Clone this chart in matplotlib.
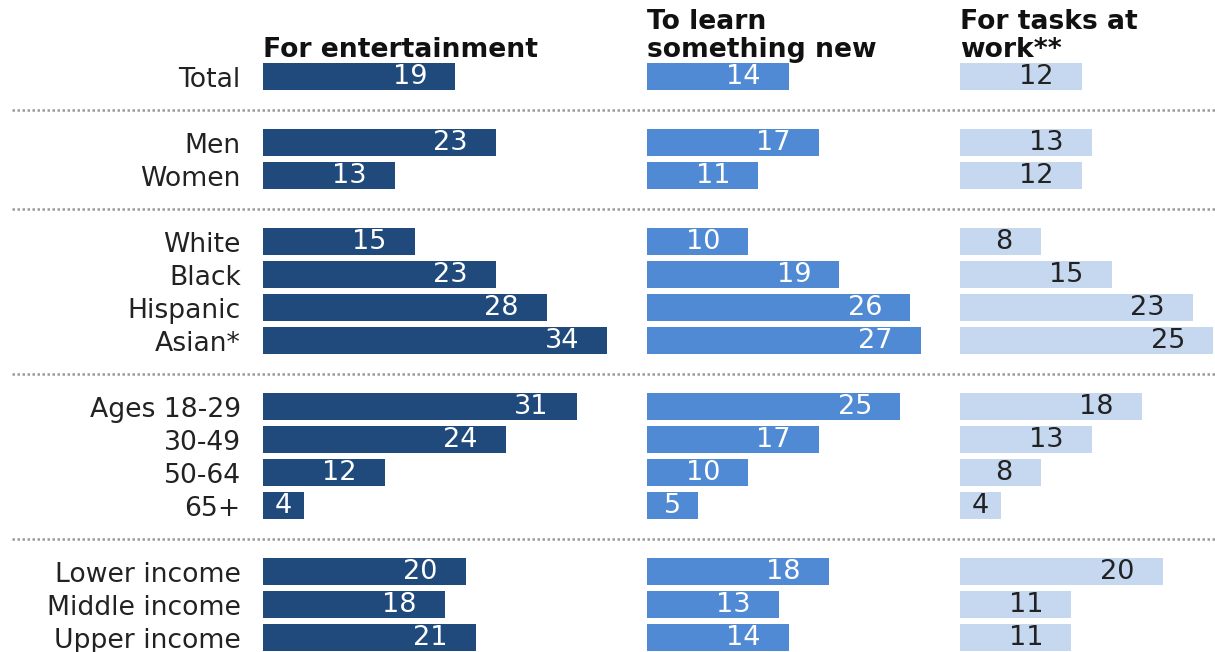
import matplotlib
matplotlib.use("Agg")
import matplotlib.pyplot as plt

# ---- data ----
row_labels = ["Total", "Men", "Women", "White", "Black", "Hispanic", "Asian*",
              "Ages 18-29", "30-49", "50-64", "65+",
              "Lower income", "Middle income", "Upper income"]
row_pos = [0, 2, 3, 5, 6, 7, 8, 10, 11, 12, 13, 15, 16, 17]
separators = [1, 4, 9, 14]

titles = ["For entertainment", "To learn\nsomething new", "For tasks at\nwork**"]
entertainment = [19, 23, 13, 15, 23, 28, 34, 31, 24, 12, 4, 20, 18, 21]
learn_new = [14, 17, 11, 10, 19, 26, 27, 25, 17, 10, 5, 18, 13, 14]
tasks_work = [12, 13, 12, 8, 15, 23, 25, 18, 13, 8, 4, 20, 11, 11]
series = [entertainment, learn_new, tasks_work]

colors = ["#204A7C", "#508AD4", "#C5D8F0"]
text_colors = ["white", "white", "#222222"]

# ---- layout ----
W, H = 1215, 652
fig = plt.figure(figsize=(W / 100, H / 100), dpi=100)
plt.rcParams['font.family'] = ['DejaVu Sans']

px_per_unit = 10.13
row_px = 33.0
y0_px = 76.5
ylim = ((H - y0_px) / row_px, -y0_px / row_px)

# background axes for separators
bg = fig.add_axes([0, 0, 1, 1])
bg.set_xlim(0, 1)
bg.set_ylim(*ylim)
bg.axis("off")
for s in separators:
    bg.hlines(s, 12 / W, 1.0, colors="#9a9a9a", linestyles=(0, (1.0, 1.0)), lw=1.8)

panel_left = [263, 647, 960]
panel_right = [647, 960, 1215]

for i in range(3):
    l, r = panel_left[i], panel_right[i]
    ax = fig.add_axes([l / W, 0, (r - l) / W, 1])
    ax.patch.set_alpha(0)
    ax.set_xlim(0, (r - l) / px_per_unit)
    ax.set_ylim(*ylim)
    vals = series[i]
    ax.barh(row_pos, vals, height=0.8, color=colors[i], edgecolor="none")
    for y, v in zip(row_pos, vals):
        if v >= 8:
            ax.text(v - 2.8, y + 0.03, str(v), ha="right", va="center",
                    fontsize=19.5, color=text_colors[i])
        else:
            ax.text(v / 2, y + 0.03, str(v), ha="center", va="center",
                    fontsize=19.5, color=text_colors[i])
    ax.text(0, -0.42, titles[i], ha="left", va="bottom", fontsize=19.2,
            fontweight="bold", color="#111111", linespacing=1.08)
    for sp in ax.spines.values():
        sp.set_visible(False)
    ax.set_xticks([])
    if i == 0:
        ax.set_yticks(row_pos)
        ax.set_yticklabels(row_labels, fontsize=19.2, color="#222222")
        ax.tick_params(axis="y", length=0, pad=16)
    else:
        ax.set_yticks([])

fig.savefig("out.png", dpi=100)
